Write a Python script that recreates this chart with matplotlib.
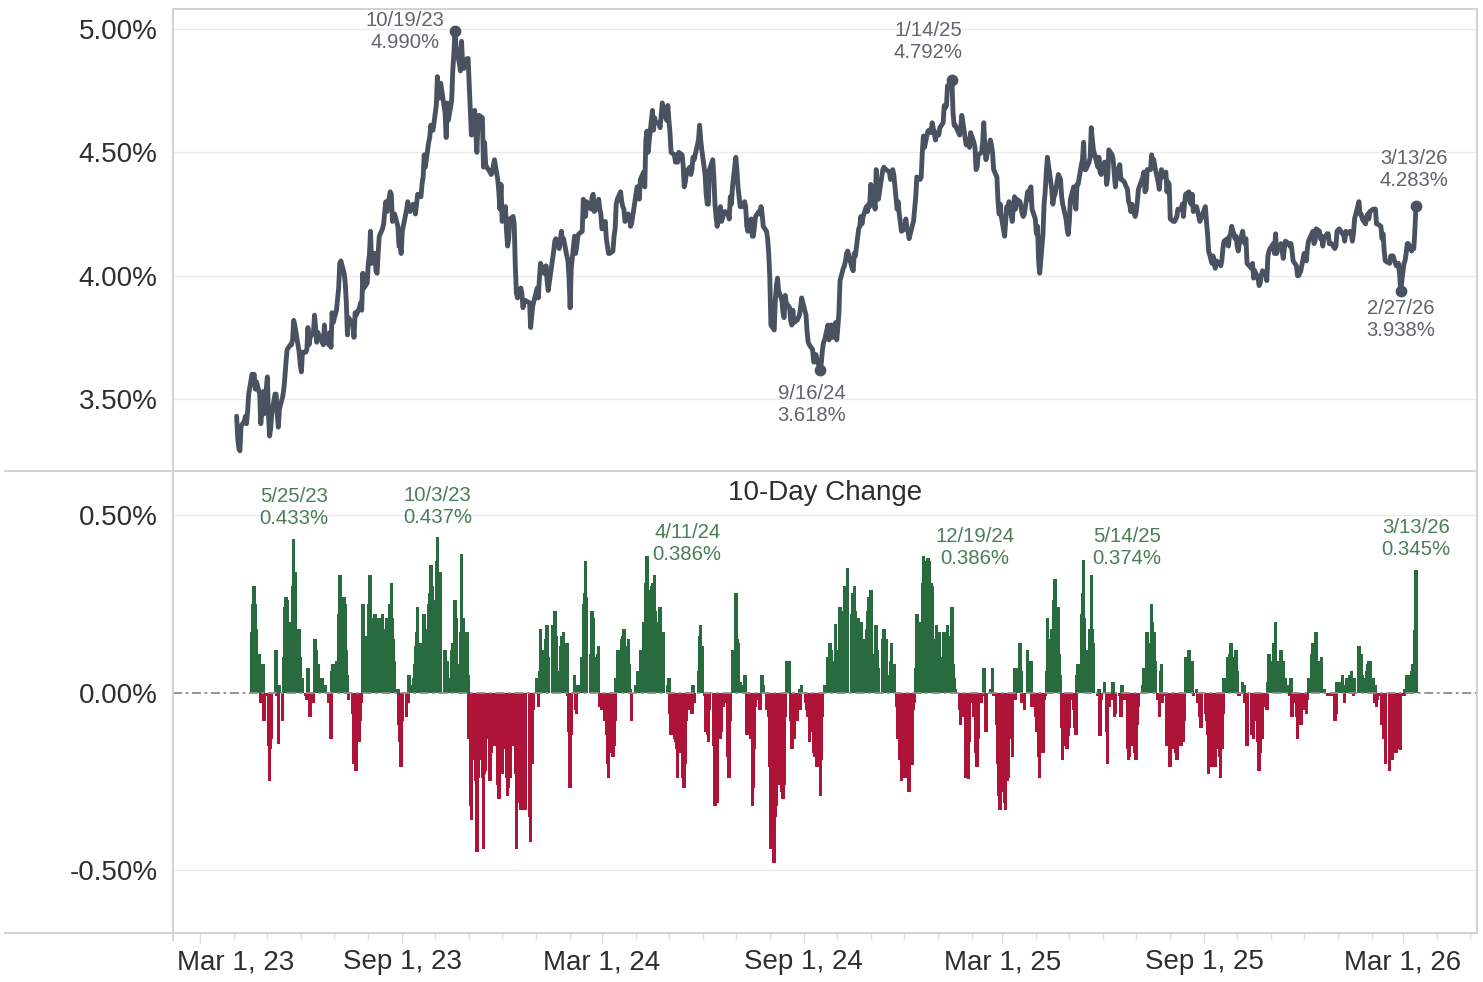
import numpy as np
import pandas as pd
import matplotlib
matplotlib.use("Agg")
import matplotlib.pyplot as plt
import matplotlib.dates as mdates
from matplotlib.lines import Line2D
from matplotlib.transforms import blended_transform_factory

# ---------------- data: 10-year yield (%), daily closes, by month ----------------
y2023_04 = [3.43, 3.34, 3.30, 3.29, 3.39, 3.41, 3.43, 3.40, 3.45, 3.52, 3.60, 3.59, 3.60, 3.54, 3.57, 3.52, 3.40, 3.45, 3.53, 3.44]
y2023_05 = [3.59, 3.44, 3.35, 3.38, 3.44, 3.52, 3.52, 3.44, 3.386, 3.46, 3.51, 3.54, 3.59, 3.65, 3.70, 3.72, 3.72, 3.74, 3.819, 3.80, 3.69, 3.64]
y2023_06 = [3.61, 3.69, 3.69, 3.70, 3.79, 3.72, 3.75, 3.77, 3.84, 3.79, 3.73, 3.77, 3.73, 3.72, 3.80, 3.74, 3.72, 3.77, 3.71, 3.85, 3.81]
y2023_07 = [3.86, 3.95, 4.05, 4.06, 4.01, 3.97, 3.89, 3.76, 3.83, 3.81, 3.80, 3.75, 3.85, 3.84, 3.87, 3.89, 3.86, 4.01, 3.95, 3.97]
y2023_08 = [4.05, 4.08, 4.18, 4.05, 4.09, 4.02, 4.01, 4.09, 4.16, 4.19, 4.21, 4.26, 4.30, 4.26, 4.34, 4.33, 4.22, 4.24, 4.25, 4.20, 4.12, 4.12, 4.09]
y2023_09 = [4.18, 4.27, 4.30, 4.27, 4.26, 4.29, 4.28, 4.25, 4.29, 4.33, 4.32, 4.370, 4.40, 4.49, 4.44, 4.54, 4.56, 4.61, 4.59, 4.59]
y2023_10 = [4.69, 4.807, 4.73, 4.72, 4.78, 4.66, 4.56, 4.70, 4.63, 4.71, 4.83, 4.90, 4.990, 4.93, 4.86, 4.83, 4.95, 4.86, 4.84, 4.88, 4.88]
y2023_11 = [4.77, 4.67, 4.57, 4.67, 4.58, 4.50, 4.62, 4.65, 4.64, 4.44, 4.54, 4.45, 4.44, 4.42, 4.41, 4.42, 4.47, 4.39, 4.34, 4.27, 4.37]
y2023_12 = [4.22, 4.28, 4.18, 4.12, 4.15, 4.23, 4.24, 4.21, 4.04, 3.93, 3.91, 3.95, 3.93, 3.87, 3.89, 3.90, 3.89, 3.79, 3.84, 3.88]
y2024_01 = [3.95, 3.91, 3.99, 4.05, 4.01, 4.02, 4.04, 3.98, 3.94, 4.07, 4.10, 4.14, 4.15, 4.11, 4.14, 4.18, 4.14, 4.15, 4.08, 4.06, 3.99]
y2024_02 = [3.87, 4.03, 4.16, 4.09, 4.12, 4.16, 4.17, 4.18, 4.31, 4.27, 4.24, 4.30, 4.27, 4.32, 4.33, 4.26, 4.28, 4.31, 4.27, 4.25]
y2024_03 = [4.19, 4.22, 4.15, 4.12, 4.09, 4.09, 4.10, 4.16, 4.19, 4.29, 4.31, 4.34, 4.30, 4.28, 4.27, 4.22, 4.25, 4.24, 4.200, 4.21]
y2024_04 = [4.33, 4.36, 4.36, 4.31, 4.39, 4.42, 4.36, 4.55, 4.586, 4.50, 4.63, 4.67, 4.59, 4.64, 4.62, 4.62, 4.60, 4.65, 4.70, 4.67, 4.63, 4.69]
y2024_05 = [4.63, 4.58, 4.50, 4.49, 4.46, 4.49, 4.46, 4.50, 4.49, 4.45, 4.36, 4.38, 4.42, 4.44, 4.41, 4.43, 4.48, 4.47, 4.55, 4.61, 4.55, 4.51]
y2024_06 = [4.41, 4.33, 4.29, 4.29, 4.43, 4.47, 4.40, 4.29, 4.24, 4.20, 4.28, 4.22, 4.25, 4.26, 4.25, 4.23, 4.32, 4.29, 4.36]
y2024_07 = [4.48, 4.43, 4.36, 4.28, 4.28, 4.30, 4.28, 4.20, 4.18, 4.23, 4.16, 4.16, 4.20, 4.24, 4.26, 4.25, 4.28, 4.25, 4.20, 4.18, 4.15, 4.09]
y2024_08 = [3.99, 3.80, 3.78, 3.90, 3.96, 3.99, 3.94, 3.90, 3.85, 3.83, 3.92, 3.89, 3.87, 3.82, 3.80, 3.86, 3.81, 3.82, 3.83, 3.84, 3.87, 3.91]
y2024_09 = [3.84, 3.77, 3.73, 3.72, 3.70, 3.65, 3.65, 3.68, 3.66, 3.618, 3.65, 3.70, 3.73, 3.74, 3.80, 3.74, 3.79, 3.80, 3.75, 3.81]
y2024_10 = [3.74, 3.79, 3.85, 3.98, 4.03, 4.04, 4.06, 4.09, 4.10, 4.03, 4.02, 4.09, 4.08, 4.19, 4.20, 4.24, 4.21, 4.24, 4.28, 4.26, 4.29, 4.28]
y2024_11 = [4.37, 4.30, 4.27, 4.43, 4.33, 4.31, 4.43, 4.44, 4.43, 4.43, 4.42, 4.39, 4.41, 4.43, 4.41, 4.27, 4.30, 4.25, 4.18]
y2024_12 = [4.19, 4.23, 4.19, 4.180, 4.15, 4.205, 4.22, 4.27, 4.32, 4.40, 4.39, 4.40, 4.50, 4.566, 4.52, 4.585, 4.59, 4.58, 4.62, 4.55, 4.58]
y2025_01 = [4.57, 4.60, 4.62, 4.69, 4.68, 4.69, 4.77, 4.78, 4.792, 4.66, 4.61, 4.61, 4.57, 4.60, 4.65, 4.62, 4.53, 4.55, 4.55, 4.52, 4.58]
y2025_02 = [4.54, 4.52, 4.43, 4.44, 4.49, 4.50, 4.54, 4.62, 4.52, 4.47, 4.55, 4.53, 4.50, 4.43, 4.40, 4.30, 4.25, 4.29, 4.24]
y2025_03 = [4.16, 4.22, 4.28, 4.26, 4.30, 4.22, 4.28, 4.32, 4.27, 4.31, 4.30, 4.28, 4.25, 4.24, 4.25, 4.34, 4.31, 4.35, 4.36, 4.27, 4.23]
y2025_04 = [4.17, 4.20, 4.06, 4.01, 4.17, 4.29, 4.34, 4.42, 4.48, 4.38, 4.35, 4.29, 4.32, 4.33, 4.41, 4.40, 4.39, 4.32, 4.29, 4.23, 4.19, 4.167]
y2025_05 = [4.22, 4.31, 4.36, 4.30, 4.27, 4.37, 4.37, 4.45, 4.47, 4.541, 4.43, 4.43, 4.46, 4.48, 4.60, 4.55, 4.51, 4.44, 4.48, 4.42, 4.41]
y2025_06 = [4.46, 4.46, 4.37, 4.40, 4.51, 4.49, 4.47, 4.41, 4.36, 4.41, 4.45, 4.39, 4.39, 4.38, 4.35, 4.30, 4.29, 4.26, 4.29, 4.24]
y2025_07 = [4.26, 4.30, 4.35, 4.40, 4.42, 4.34, 4.35, 4.43, 4.43, 4.49, 4.46, 4.47, 4.44, 4.38, 4.35, 4.40, 4.43, 4.40, 4.42, 4.34, 4.38, 4.37]
y2025_08 = [4.23, 4.22, 4.22, 4.23, 4.24, 4.27, 4.27, 4.29, 4.24, 4.29, 4.33, 4.34, 4.30, 4.29, 4.33, 4.26, 4.28, 4.26, 4.24, 4.22, 4.23]
y2025_09 = [4.28, 4.22, 4.17, 4.10, 4.05, 4.08, 4.05, 4.03, 4.06, 4.05, 4.04, 4.06, 4.11, 4.14, 4.15, 4.12, 4.16, 4.17, 4.20, 4.15, 4.16]
y2025_10 = [4.12, 4.10, 4.13, 4.18, 4.14, 4.13, 4.15, 4.05, 4.03, 4.05, 3.99, 4.02, 3.99, 3.96, 3.97, 4.00, 4.02, 4.01, 3.98, 4.08, 4.10, 4.11]
y2025_11 = [4.13, 4.09, 4.17, 4.09, 4.11, 4.13, 4.07, 4.11, 4.14, 4.13, 4.12, 4.13, 4.10, 4.06, 4.04, 4.00, 4.00, 4.02]
y2025_12 = [4.09, 4.08, 4.06, 4.11, 4.14, 4.17, 4.18, 4.13, 4.14, 4.19, 4.18, 4.15, 4.16, 4.12, 4.15, 4.17, 4.17, 4.13, 4.13, 4.11, 4.12, 4.18]
y2026_01 = [4.19, 4.17, 4.17, 4.14, 4.18, 4.17, 4.18, 4.17, 4.14, 4.17, 4.23, 4.30, 4.25, 4.25, 4.23, 4.21, 4.24, 4.25, 4.23, 4.26]
y2026_02 = [4.27, 4.27, 4.27, 4.21, 4.21, 4.20, 4.15, 4.17, 4.10, 4.06, 4.05, 4.08, 4.08, 4.08, 4.04, 4.04, 4.05, 4.01, 3.938]
y2026_03 = [4.05, 4.06, 4.09, 4.13, 4.13, 4.10, 4.12, 4.11, 4.185, 4.283]

month_keys = ["2023-04", "2023-05", "2023-06", "2023-07", "2023-08", "2023-09", "2023-10",
              "2023-11", "2023-12", "2024-01", "2024-02", "2024-03", "2024-04", "2024-05",
              "2024-06", "2024-07", "2024-08", "2024-09", "2024-10", "2024-11", "2024-12",
              "2025-01", "2025-02", "2025-03", "2025-04", "2025-05", "2025-06", "2025-07",
              "2025-08", "2025-09", "2025-10", "2025-11", "2025-12", "2026-01", "2026-02", "2026-03"]
month_vals = [y2023_04, y2023_05, y2023_06, y2023_07, y2023_08, y2023_09, y2023_10,
              y2023_11, y2023_12, y2024_01, y2024_02, y2024_03, y2024_04, y2024_05,
              y2024_06, y2024_07, y2024_08, y2024_09, y2024_10, y2024_11, y2024_12,
              y2025_01, y2025_02, y2025_03, y2025_04, y2025_05, y2025_06, y2025_07,
              y2025_08, y2025_09, y2025_10, y2025_11, y2025_12, y2026_01, y2026_02, y2026_03]

holidays = pd.to_datetime([
    "2023-05-29", "2023-06-19", "2023-07-04", "2023-09-04", "2023-10-09", "2023-11-23", "2023-12-25",
    "2024-01-01", "2024-01-15", "2024-02-19", "2024-03-29", "2024-05-27", "2024-06-19", "2024-07-04",
    "2024-09-02", "2024-10-14", "2024-11-11", "2024-11-28", "2024-12-25",
    "2025-01-01", "2025-01-20", "2025-02-17", "2025-05-26", "2025-06-19", "2025-07-04",
    "2025-09-01", "2025-10-13", "2025-11-11", "2025-11-27", "2025-12-25",
    "2026-01-01", "2026-01-19", "2026-02-16"])
last_day = pd.Timestamp("2026-03-13")

top_labels = ["2023-10-19", "2024-09-16", "2025-01-14", "2026-02-27", "2026-03-13"]
bottom_labels = ["2023-05-25", "2023-10-03", "2024-04-11", "2024-12-19", "2025-05-14", "2026-03-13"]

x_tick_dates = ["2023-03-01", "2023-09-01", "2024-03-01", "2024-09-01", "2025-03-01", "2025-09-01", "2026-03-01"]
x_tick_text = ["Mar 1, 23", "Sep 1, 23", "Mar 1, 24", "Sep 1, 24", "Mar 1, 25", "Sep 1, 25", "Mar 1, 26"]
y1_ticks = [3.5, 4.0, 4.5, 5.0]
y2_ticks = [-0.5, 0.0, 0.5]

# ---------------- build series ----------------
dates_all, vals_all = [], []
for key, vals in zip(month_keys, month_vals):
    start = pd.Timestamp(key + "-01")
    end = min(start + pd.offsets.MonthEnd(0), last_day)
    d = pd.bdate_range(start, end)
    d = d[~d.isin(holidays)]
    if len(d) != len(vals):
        if len(vals) <= len(d):
            idx = np.round(np.linspace(0, len(d) - 1, len(vals))).astype(int)
            d = d[idx]
        else:
            d = pd.date_range(d[0], d[-1], periods=len(vals))
    dates_all.extend(list(d))
    vals_all.extend(vals)

ser = pd.Series(vals_all, index=pd.DatetimeIndex(dates_all))
chg = ser.diff(10).dropna()

# ---------------- style ----------------
FONT = "Liberation Sans"
plt.rcParams["font.family"] = [FONT, "DejaVu Sans"]
LINE_C = "#4a5262"
GREEN = "#276b3e"
RED = "#ae1338"
GRID_C = "#ebebeb"
FRAME_C = "#d2d2d2"
TICK_C = "#dedede"
TXT_C = "#2e2e2e"
TOP_ANN_C = "#60646b"
BOT_ANN_C = "#4c7d57"

W, H = 1483, 982
fig = plt.figure(figsize=(W / 100, H / 100), dpi=100)
def fx(px): return px / W
def fy(py): return 1 - py / H

ax1 = fig.add_axes([fx(173), fy(471), fx(1477) - fx(173), fy(10) - fy(471)])
ax2 = fig.add_axes([fx(173), fy(933), fx(1477) - fx(173), fy(471) - fy(933)])

x0 = mdates.date2num(pd.Timestamp("2023-03-01"))
xlim = (x0 - 25, x0 + 1163.6)

for ax in (ax1, ax2):
    ax.set_xlim(xlim)
    for s in ax.spines.values():
        s.set_visible(False)
    ax.set_axisbelow(True)
    ax.tick_params(axis="y", length=0, pad=11, labelsize=20, labelcolor=TXT_C)
    ax.set_facecolor("none")

# ---- top panel ----
ax1.set_ylim(3.2083, 5.077)
ax1.set_yticks(y1_ticks)
ax1.set_yticklabels([f"{t:.2f}%" for t in y1_ticks])
ax1.yaxis.grid(True, color=GRID_C, lw=1.0)
ax1.set_xticks([])
ax1.plot(ser.index, ser.values, color=LINE_C, lw=3.5, solid_joinstyle="round",
         solid_capstyle="round", zorder=3)

top_offsets = {
    "2023-10-19": (-36, 0),
    "2024-09-16": (-6, -25),
    "2025-01-14": (-17, 28),
    "2026-02-27": (0, -20.5),
    "2026-03-13": (-1.5, 26),
}
for d in top_labels:
    ts = pd.Timestamp(d)
    v = ser.loc[ts]
    ax1.plot([ts], [v], "o", ms=7.5, color=LINE_C, zorder=4)
    txt = f"{ts.month}/{ts.day}/{ts.year % 100}\n{v:.3f}%"
    ax1.annotate(txt, xy=(ts, v), xytext=top_offsets[d], textcoords="offset points",
                 ha="center", va="center", fontsize=14.6, color=TOP_ANN_C, linespacing=1.2)

# ---- bottom panel ----
ax2.set_ylim(-0.677, 0.624)
ax2.set_yticks(y2_ticks)
ax2.set_yticklabels([f"{t:.2f}%" for t in y2_ticks])
ax2.yaxis.grid(False)
for t in (-0.5, 0.5):
    ax2.axhline(t, color=GRID_C, lw=1.0, zorder=0)
colors = np.where(chg.values >= 0, GREEN, RED)
ax2.bar(chg.index, chg.values, width=3.2, color=colors, linewidth=0, zorder=2)
ax2.axhline(0, color="#8c8c8c", lw=1.3, dashes=(5, 2, 1.5, 2), zorder=3)

bot_offsets = {
    "2023-05-25": (0, 22.7, "center"),
    "2023-10-03": (0, 22, "center"),
    "2024-04-11": (29, 9, "center"),
    "2024-12-19": (37, 6, "center"),
    "2025-05-14": (31, 9, "center"),
    "2026-03-13": (0, 22.7, "center"),
}
for d in bottom_labels:
    ts = pd.Timestamp(d)
    v = chg.loc[ts]
    dx, dy, ha = bot_offsets[d]
    txt = f"{ts.month}/{ts.day}/{ts.year % 100}\n{v:.3f}%"
    ax2.annotate(txt, xy=(ts, v), xytext=(dx, dy), textcoords="offset points",
                 ha=ha, va="center", fontsize=14.7, color=BOT_ANN_C, linespacing=1.2)

ax2.text(0.5, 0.952, "10-Day Change", transform=ax2.transAxes, ha="center", va="center",
         fontsize=20, color=TXT_C)

# x ticks
ax2.set_xticks([mdates.date2num(pd.Timestamp(d)) for d in x_tick_dates])
ax2.xaxis.set_minor_locator(mdates.MonthLocator())
ax2.tick_params(axis="x", which="major", length=7, color=TICK_C, labelbottom=False, width=1)
ax2.tick_params(axis="x", which="minor", length=4, color=TICK_C, width=1)
trans = blended_transform_factory(ax2.transData, ax2.transAxes)
for i, (d, lab) in enumerate(zip(x_tick_dates, x_tick_text)):
    if i == 0:
        ax2.text(0.003, -0.063, lab, transform=ax2.transAxes, ha="left", va="center",
                 fontsize=20, color=TXT_C)
    else:
        ax2.text(mdates.date2num(pd.Timestamp(d)), -0.063, lab, transform=trans,
                 ha="center", va="center", fontsize=20, color=TXT_C)

# frame lines (figure pixel coordinates)
def hline(y, xa, xb):
    fig.add_artist(Line2D([fx(xa), fx(xb)], [fy(y), fy(y)], transform=fig.transFigure,
                          color=FRAME_C, lw=1.4))
def vline(x, ya, yb):
    fig.add_artist(Line2D([fx(x), fx(x)], [fy(ya), fy(yb)], transform=fig.transFigure,
                          color=FRAME_C, lw=1.4))
hline(9, 173, 1477)
hline(471, 5, 1477)
hline(933, 5, 1477)
vline(173, 9, 940)
vline(1477, 9, 933)

fig.savefig("out.png", dpi=100)
